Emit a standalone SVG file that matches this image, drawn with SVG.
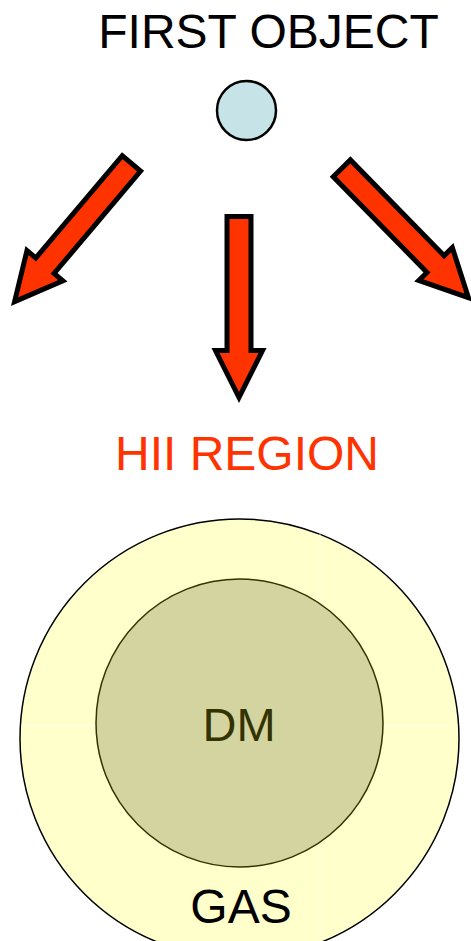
<svg xmlns="http://www.w3.org/2000/svg" width="471" height="941" viewBox="0 0 471 941">
<style>
.arrow{fill:#ff3300;stroke:#000;stroke-width:5;stroke-linejoin:miter;stroke-miterlimit:10}
.lbl{font-family:"Liberation Sans",Arial,sans-serif;text-anchor:middle}
</style>
<defs>
<polygon id="arr" points="-12,0 12,0 12,134 23.5,134 0,181 -23.5,134 -12,134"/>
</defs>
<rect width="471" height="941" fill="#fff"/>
<g id="first-object">
<text class="lbl" x="268.5" y="48" font-size="48" fill="#000">FIRST OBJECT</text>
<circle cx="246.5" cy="110.5" r="29.5" fill="#c6e4e8" stroke="#000" stroke-width="2.5"/>
</g>
<g id="connectors">
<use href="#arr" class="arrow" transform="translate(131.4,163.4) rotate(40.2)"/>
<use href="#arr" class="arrow" transform="translate(239,216.5)"/>
<use href="#arr" class="arrow" transform="translate(341.8,168.3) rotate(-44.4)"/>
</g>
<g id="hii-region">
<text class="lbl" x="247" y="470" font-size="48" fill="#ff3300">HII REGION</text>
</g>
<g id="gas">
<circle cx="239.5" cy="738.5" r="219.5" fill="#ffffcc" stroke="#000" stroke-width="1.5"/>
<line x1="320" y1="520" x2="320" y2="940" stroke="#fff" stroke-width="1" opacity="0.6"/>
<line x1="21" y1="725" x2="458" y2="725" stroke="#fff" stroke-width="1" opacity="0.6"/>
<text class="lbl" x="241" y="923" font-size="48" fill="#000">GAS</text>
</g>
<g id="dm">
<ellipse cx="239.5" cy="723" rx="143.5" ry="144" fill="#d4d4a0" stroke="#333300" stroke-width="1.5"/>
<text class="lbl" x="239" y="741" font-size="47" fill="#333300">DM</text>
</g>
</svg>
